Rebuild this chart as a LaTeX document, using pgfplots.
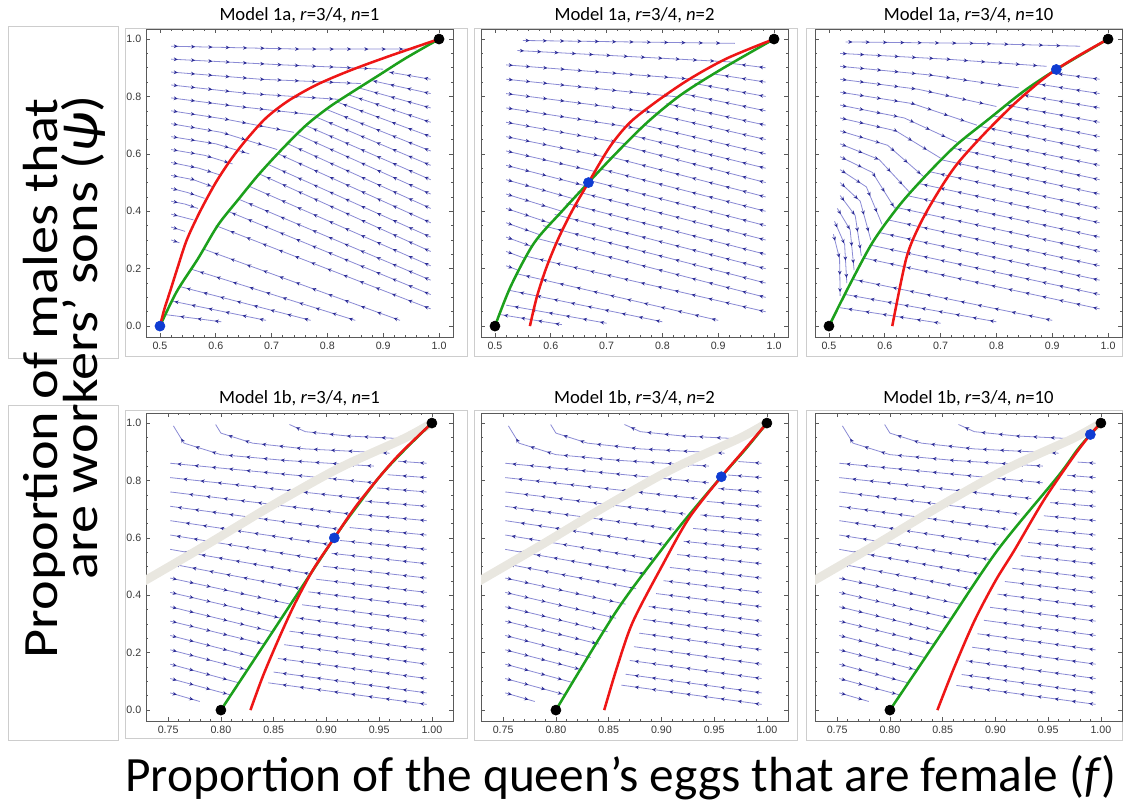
\documentclass[border=0pt]{standalone}
\usepackage{fontspec}
\setmainfont{Carlito}
\newfontfamily\tickfam{Liberation Sans}
\usepackage{pgfplots}
\pgfplotsset{compat=1.18}
\usetikzlibrary{arrows.meta,decorations.markings}

\definecolor{slc}{RGB}{138,138,212}
\definecolor{arc}{RGB}{45,45,150}
\definecolor{redc}{RGB}{238,22,22}
\definecolor{grnc}{RGB}{28,160,28}
\definecolor{bluec}{RGB}{15,60,210}
\definecolor{grayband}{RGB}{233,231,224}
\definecolor{axc}{RGB}{90,90,90}
\definecolor{tkc}{RGB}{55,55,55}
\definecolor{frc}{RGB}{205,205,205}

\newcommand\tickfont{\tickfam\fontsize{8}{9}\selectfont}

\pgfplotsset{
  panel/.style={scale only axis, width=230.25pt, height=231pt, anchor=north west,
    ymin=-0.038, ymax=1.035, ytick={0,0.2,0.4,0.6,0.8,1}, minor y tick num=3,
    yticklabels={0.0,0.2,0.4,0.6,0.8,1.0},
    axis line style={draw=axc, line width=0.55pt},
    tick style={draw=axc, line width=0.45pt},
    major tick length=3.2pt, minor tick length=1.8pt, tick align=inside,
    tick label style={font=\tickfont, text=tkc}},
  pA/.style={xmin=0.475, xmax=1.025, xtick={0.5,0.6,0.7,0.8,0.9,1}, minor x tick num=4,
    xticklabels={0.5,0.6,0.7,0.8,0.9,1.0}},
  pB/.style={xmin=0.729, xmax=1.02, xtick={0.75,0.8,0.85,0.9,0.95,1}, minor x tick num=4,
    xticklabels={0.75,0.80,0.85,0.90,0.95,1.00}},
  noy/.style={yticklabels={}},
  sl/.style={draw=slc, line width=0.6pt, postaction={decorate},
    decoration={markings, mark=between positions 5pt and 0.98 step 13pt with {\arrow{Stealth[length=3pt,width=2.8pt,color=arc]}}}},
  rl/.style={draw=redc, line width=1.9pt, smooth, tension=0.5},
  gl/.style={draw=grnc, line width=1.9pt, smooth, tension=0.5},
  band/.style={draw=grayband, line width=6.5pt, line cap=round, smooth},
  bdot/.style={only marks, mark=*, mark size=3.8pt, mark options={draw=bluec, fill=bluec}},
  kdot/.style={only marks, mark=*, mark size=3.8pt, mark options={draw=black, fill=black}},
}
\newcommand\sL[1]{\addplot[sl] coordinates {#1};}

% ---------- Model 1a, n=1 ----------
\newcommand\streamsA{%
\sL{(0.52,0.975)(0.75,0.965)(0.96,0.965)}
\sL{(0.52,0.93)(0.72,0.91)(0.90,0.895)}
\sL{(0.52,0.885)(0.68,0.86)(0.86,0.845)}
\sL{(0.52,0.84)(0.66,0.81)(0.82,0.79)}
\sL{(0.52,0.795)(0.64,0.765)(0.78,0.735)}
\sL{(0.52,0.75)(0.62,0.72)(0.74,0.675)}
\sL{(0.52,0.705)(0.61,0.675)(0.71,0.615)}
\sL{(0.52,0.66)(0.60,0.635)(0.66,0.60)}
\sL{(0.52,0.615)(0.58,0.595)(0.63,0.565)}
\sL{(0.52,0.57)(0.57,0.55)(0.61,0.525)}
\sL{(0.52,0.525)(0.56,0.51)(0.595,0.485)}
\sL{(0.52,0.48)(0.55,0.465)(0.58,0.445)}
\sL{(0.52,0.435)(0.545,0.425)(0.568,0.41)}
\sL{(0.52,0.39)(0.56,0.37)}
\sL{(0.52,0.345)(0.545,0.33)}
\sL{(0.52,0.30)(0.535,0.29)}
\sL{(0.985,0.86)(0.91,0.885)}
\sL{(0.985,0.81)(0.88,0.855)}
\sL{(0.985,0.76)(0.856,0.83)}
\sL{(0.985,0.71)(0.836,0.807)}
\sL{(0.985,0.66)(0.817,0.781)}
\sL{(0.985,0.61)(0.798,0.755)}
\sL{(0.985,0.56)(0.78,0.728)}
\sL{(0.985,0.51)(0.76,0.70)}
\sL{(0.985,0.46)(0.744,0.67)}
\sL{(0.985,0.41)(0.728,0.636)}
\sL{(0.985,0.36)(0.712,0.60)}
\sL{(0.985,0.31)(0.694,0.563)}
\sL{(0.985,0.26)(0.677,0.531)}
\sL{(0.985,0.21)(0.66,0.487)}
\sL{(0.985,0.16)(0.64,0.443)}
\sL{(0.985,0.11)(0.622,0.40)}
\sL{(0.985,0.06)(0.60,0.35)}
\sL{(0.93,0.02)(0.58,0.267)}
\sL{(0.85,0.02)(0.555,0.199)}
\sL{(0.77,0.02)(0.537,0.137)}
\sL{(0.69,0.02)(0.522,0.087)}
\sL{(0.61,0.015)(0.51,0.04)}
}
% ---------- Model 1a, n=2 ----------
\newcommand\streamsB{%
\sL{(0.55,0.995)(0.93,0.985)}
\sL{(0.54,0.96)(0.925,0.92)}
\sL{(0.52,0.91)(0.875,0.857)}
\sL{(0.52,0.86)(0.83,0.798)}
\sL{(0.52,0.81)(0.795,0.741)}
\sL{(0.52,0.76)(0.762,0.687)}
\sL{(0.52,0.71)(0.734,0.635)}
\sL{(0.52,0.66)(0.708,0.585)}
\sL{(0.52,0.61)(0.685,0.536)}
\sL{(0.52,0.56)(0.662,0.489)}
\sL{(0.52,0.51)(0.64,0.444)}
\sL{(0.52,0.46)(0.62,0.40)}
\sL{(0.52,0.41)(0.60,0.358)}
\sL{(0.52,0.36)(0.582,0.317)}
\sL{(0.52,0.31)(0.567,0.277)}
\sL{(0.52,0.26)(0.555,0.235)}
\sL{(0.52,0.21)(0.54,0.196)}
\sL{(0.985,0.90)(0.92,0.916)}
\sL{(0.985,0.85)(0.893,0.878)}
\sL{(0.985,0.80)(0.858,0.845)}
\sL{(0.985,0.75)(0.836,0.81)}
\sL{(0.985,0.70)(0.807,0.775)}
\sL{(0.985,0.65)(0.79,0.737)}
\sL{(0.985,0.60)(0.767,0.70)}
\sL{(0.985,0.55)(0.748,0.663)}
\sL{(0.985,0.50)(0.73,0.628)}
\sL{(0.985,0.45)(0.71,0.588)}
\sL{(0.985,0.40)(0.69,0.547)}
\sL{(0.985,0.35)(0.67,0.507)}
\sL{(0.985,0.30)(0.648,0.468)}
\sL{(0.985,0.25)(0.628,0.428)}
\sL{(0.985,0.20)(0.607,0.389)}
\sL{(0.985,0.15)(0.586,0.35)}
\sL{(0.985,0.10)(0.576,0.305)}
\sL{(0.985,0.05)(0.557,0.243)}
\sL{(0.90,0.02)(0.54,0.182)}
\sL{(0.80,0.015)(0.525,0.125)}
\sL{(0.70,0.01)(0.52,0.073)}
\sL{(0.62,0.005)(0.51,0.04)}
}
% ---------- Model 1a, n=10 ----------
\newcommand\streamsC{%
\sL{(0.53,0.99)(0.76,0.985)(0.95,0.975)}
\sL{(0.52,0.95)(0.71,0.93)(0.89,0.905)}
\sL{(0.52,0.905)(0.68,0.875)(0.84,0.83)}
\sL{(0.52,0.86)(0.66,0.825)(0.80,0.765)}
\sL{(0.52,0.815)(0.65,0.775)(0.765,0.70)}
\sL{(0.52,0.77)(0.635,0.725)(0.73,0.64)}
\sL{(0.52,0.725)(0.62,0.68)(0.70,0.585)}
\sL{(0.52,0.68)(0.605,0.63)(0.67,0.52)}
\sL{(0.52,0.635)(0.59,0.58)(0.645,0.465)}
\sL{(0.52,0.59)(0.578,0.535)(0.618,0.41)}
\sL{(0.52,0.545)(0.567,0.485)(0.595,0.355)}
\sL{(0.52,0.50)(0.556,0.435)(0.575,0.30)}
\sL{(0.52,0.455)(0.547,0.385)(0.558,0.245)}
\sL{(0.515,0.41)(0.538,0.335)(0.545,0.195)}
\sL{(0.51,0.365)(0.528,0.285)(0.532,0.15)}
\sL{(0.508,0.32)(0.519,0.235)(0.52,0.105)}
\sL{(0.985,0.86)(0.897,0.882)}
\sL{(0.985,0.81)(0.869,0.845)}
\sL{(0.985,0.76)(0.838,0.808)}
\sL{(0.985,0.71)(0.817,0.77)}
\sL{(0.985,0.66)(0.792,0.733)}
\sL{(0.985,0.61)(0.77,0.696)}
\sL{(0.985,0.56)(0.745,0.656)}
\sL{(0.985,0.51)(0.722,0.62)}
\sL{(0.985,0.46)(0.70,0.58)}
\sL{(0.985,0.41)(0.68,0.538)}
\sL{(0.985,0.36)(0.66,0.497)}
\sL{(0.985,0.31)(0.639,0.455)}
\sL{(0.985,0.26)(0.617,0.415)}
\sL{(0.985,0.21)(0.606,0.37)}
\sL{(0.985,0.16)(0.59,0.326)}
\sL{(0.985,0.11)(0.575,0.282)}
\sL{(0.985,0.06)(0.563,0.237)}
\sL{(0.90,0.02)(0.545,0.162)}
\sL{(0.80,0.015)(0.53,0.11)}
\sL{(0.70,0.01)(0.52,0.064)}
}
% ---------- Model 1b, left-hand streamlines (similar in all three) ----------
\newcommand\streamsBL{%
\sL{(0.975,0.945)(0.92,0.955)(0.88,0.97)(0.865,0.995)}
\sL{(0.96,0.895)(0.88,0.91)(0.83,0.93)(0.80,0.965)(0.795,0.995)}
\sL{(0.945,0.85)(0.86,0.87)(0.80,0.89)(0.765,0.93)(0.755,0.99)}
\sL{(0.945,0.792)(0.752,0.86)}
\sL{(0.934,0.737)(0.752,0.81)}
\sL{(0.923,0.683)(0.752,0.76)}
\sL{(0.912,0.63)(0.752,0.71)}
\sL{(0.903,0.577)(0.752,0.66)}
\sL{(0.894,0.525)(0.752,0.61)}
\sL{(0.885,0.474)(0.752,0.56)}
\sL{(0.876,0.423)(0.752,0.51)}
\sL{(0.752,0.46)(0.866,0.369)}
\sL{(0.752,0.41)(0.857,0.32)}
\sL{(0.752,0.36)(0.849,0.273)}
\sL{(0.752,0.31)(0.841,0.23)}
\sL{(0.752,0.26)(0.833,0.183)}
\sL{(0.752,0.21)(0.825,0.14)}
\sL{(0.752,0.16)(0.817,0.095)}
\sL{(0.752,0.11)(0.809,0.053)}
\sL{(0.752,0.06)(0.78,0.03)}
}
\newcommand\streamsDR{%
\sL{(0.995,0.86)(0.968,0.867)}
\sL{(0.995,0.81)(0.958,0.82)}
\sL{(0.995,0.76)(0.948,0.774)}
\sL{(0.995,0.71)(0.937,0.728)}
\sL{(0.995,0.66)(0.93,0.682)}
\sL{(0.995,0.61)(0.922,0.636)}
\sL{(0.995,0.56)(0.913,0.591)}
\sL{(0.995,0.51)(0.905,0.546)}
\sL{(0.995,0.46)(0.897,0.501)}
\sL{(0.995,0.41)(0.89,0.456)}
\sL{(0.995,0.36)(0.883,0.412)}
\sL{(0.995,0.31)(0.877,0.367)}
\sL{(0.995,0.26)(0.871,0.322)}
\sL{(0.995,0.21)(0.865,0.275)}
\sL{(0.995,0.16)(0.86,0.228)}
\sL{(0.995,0.11)(0.854,0.18)}
\sL{(0.995,0.06)(0.85,0.1325)}
\sL{(0.995,0.02)(0.845,0.095)}
}
\newcommand\streamsER{%
\sL{(0.995,0.86)(0.973,0.866)}
\sL{(0.995,0.81)(0.963,0.819)}
\sL{(0.995,0.76)(0.954,0.772)}
\sL{(0.995,0.71)(0.943,0.727)}
\sL{(0.995,0.66)(0.937,0.68)}
\sL{(0.995,0.61)(0.93,0.633)}
\sL{(0.995,0.56)(0.921,0.588)}
\sL{(0.995,0.51)(0.915,0.542)}
\sL{(0.995,0.46)(0.908,0.497)}
\sL{(0.995,0.41)(0.902,0.451)}
\sL{(0.995,0.36)(0.895,0.406)}
\sL{(0.995,0.31)(0.888,0.361)}
\sL{(0.995,0.26)(0.883,0.316)}
\sL{(0.995,0.21)(0.879,0.268)}
\sL{(0.995,0.16)(0.874,0.221)}
\sL{(0.995,0.11)(0.87,0.173)}
\sL{(0.995,0.06)(0.866,0.125)}
\sL{(0.995,0.02)(0.862,0.087)}
}
\newcommand\streamsFR{%
\sL{(0.995,0.86)(0.978,0.864)}
\sL{(0.995,0.81)(0.968,0.818)}
\sL{(0.995,0.76)(0.961,0.77)}
\sL{(0.995,0.71)(0.952,0.723)}
\sL{(0.995,0.66)(0.946,0.677)}
\sL{(0.995,0.61)(0.94,0.63)}
\sL{(0.995,0.56)(0.931,0.584)}
\sL{(0.995,0.51)(0.924,0.538)}
\sL{(0.995,0.46)(0.916,0.494)}
\sL{(0.995,0.41)(0.909,0.448)}
\sL{(0.995,0.36)(0.902,0.404)}
\sL{(0.995,0.31)(0.895,0.358)}
\sL{(0.995,0.26)(0.889,0.313)}
\sL{(0.995,0.21)(0.883,0.266)}
\sL{(0.995,0.16)(0.878,0.219)}
\sL{(0.995,0.11)(0.872,0.172)}
\sL{(0.995,0.06)(0.868,0.124)}
\sL{(0.995,0.02)(0.863,0.086)}
}
\newcommand\bandB{\addplot[band] coordinates {(0.72,0.434)(0.786,0.575)(0.849,0.714)(0.9115,0.842)(0.974,0.947)(1,1)};}

\begin{document}
\begin{tikzpicture}
\path[use as bounding box] (0,0) rectangle (842.25pt,-602.25pt);
% light frames
\begin{scope}[draw=frc, line width=0.6pt]
\draw (6pt,-19.5pt) rectangle (88.5pt,-268.5pt);
\draw (6pt,-303.75pt) rectangle (88.5pt,-555pt);
\draw (93.75pt,-21pt) rectangle (350.25pt,-267pt);
\draw (355.5pt,-21pt) rectangle (597.75pt,-267pt);
\draw (604.5pt,-21pt) rectangle (841.5pt,-267pt);
\draw (93.75pt,-307.5pt) rectangle (350.25pt,-553.5pt);
\draw (355.5pt,-307.5pt) rectangle (597.75pt,-555pt);
\draw (604.5pt,-307.5pt) rectangle (841.5pt,-555pt);
\end{scope}

% ===== top row =====
\begin{axis}[panel, pA, at={(109.5pt,-21.75pt)}]
\streamsA
\addplot[gl] coordinates {(0.5,0)(0.53,0.12)(0.5685,0.236)(0.604,0.352)(0.642,0.445)(0.676,0.526)(0.717,0.613)(0.762,0.70)(0.804,0.764)(0.845,0.816)(0.893,0.875)(0.94,0.933)(1,1)};
\addplot[rl] coordinates {(0.5,0)(0.508,0.06)(0.518,0.12)(0.531,0.2)(0.548,0.3)(0.572,0.4)(0.6,0.5)(0.627,0.58)(0.655,0.65)(0.69,0.725)(0.73,0.785)(0.78,0.84)(0.84,0.89)(0.91,0.94)(1,1)};
\addplot[bdot] coordinates {(0.5,0)};
\addplot[kdot] coordinates {(1,1)};
\end{axis}

\begin{axis}[panel, pA, noy, at={(360.75pt,-21.75pt)}]
\streamsB
\addplot[gl] coordinates {(0.5,0)(0.5286,0.14)(0.5703,0.29)(0.62,0.40)(0.6675,0.5)(0.7134,0.595)(0.773,0.71)(0.8327,0.805)(0.904,0.893)(1,1)};
\addplot[rl] coordinates {(0.5626,0)(0.5748,0.1)(0.5914,0.2)(0.6124,0.3)(0.6378,0.4)(0.6675,0.5)(0.706,0.625)(0.7433,0.712)(0.797,0.793)(0.8506,0.863)(0.916,0.933)(1,1)};
\addplot[bdot] coordinates {(0.6675,0.5)};
\addplot[kdot] coordinates {(0.5,0)(1,1)};
\end{axis}

\begin{axis}[panel, pA, noy, at={(611.25pt,-21.75pt)}]
\streamsC
\addplot[gl] coordinates {(0.5,0)(0.5369,0.143)(0.5789,0.294)(0.6265,0.4216)(0.6744,0.5261)(0.7281,0.6307)(0.7878,0.7236)(0.8477,0.8165)(0.9073,0.894)(1,1)};
\addplot[rl] coordinates {(0.6134,0)(0.6385,0.2358)(0.6624,0.352)(0.6923,0.4564)(0.7281,0.561)(0.776,0.6655)(0.8297,0.77)(0.8774,0.851)(0.9073,0.894)(0.949,0.944)(1,1)};
\addplot[bdot] coordinates {(0.9073,0.894)};
\addplot[kdot] coordinates {(0.5,0)(1,1)};
\end{axis}

% ===== bottom row =====
\begin{axis}[panel, pB, at={(109.5pt,-309.75pt)}]
\streamsBL
\streamsDR
\bandB
\addplot[gl] coordinates {(0.8,0)(0.849,0.273)(0.9075,0.6)(0.93,0.715)(0.952,0.82)(0.975,0.91)(1,1)};
\addplot[rl] coordinates {(0.828,0)(0.84,0.12)(0.855,0.25)(0.87,0.37)(0.8875,0.49)(0.9075,0.6)(0.93,0.72)(0.965,0.875)(1,1)};
\addplot[bdot] coordinates {(0.9075,0.6)};
\addplot[kdot] coordinates {(0.8,0)(1,1)};
\end{axis}

\begin{axis}[panel, pB, noy, at={(360.75pt,-309.75pt)}]
\streamsBL
\streamsER
\bandB
\addplot[gl] coordinates {(0.8,0)(0.857,0.343)(0.901,0.563)(0.926,0.679)(0.9568,0.813)(0.98,0.91)(1,1)};
\addplot[rl] coordinates {(0.8458,0)(0.858,0.15)(0.873,0.308)(0.901,0.505)(0.926,0.668)(0.9568,0.813)(0.977,0.9)(1,1)};
\addplot[bdot] coordinates {(0.9568,0.813)};
\addplot[kdot] coordinates {(0.8,0)(1,1)};
\end{axis}

\begin{axis}[panel, pB, noy, at={(611.25pt,-309.75pt)}]
\streamsBL
\streamsFR
\bandB
\addplot[gl] coordinates {(0.8,0)(0.85,0.273)(0.902,0.557)(0.959,0.813)(0.9775,0.906)(0.99,0.96)(1,1)};
\addplot[rl] coordinates {(0.845,0)(0.86,0.14)(0.88,0.31)(0.90,0.45)(0.918,0.557)(0.946,0.732)(0.974,0.883)(0.99,0.96)(1,1)};
\addplot[bdot] coordinates {(0.99,0.96)};
\addplot[kdot] coordinates {(0.8,0)(1,1)};
\end{axis}

% titles
\begin{scope}[every node/.style={anchor=base, inner sep=0pt, font=\fontsize{14}{16}\selectfont}]
\node at (224.6pt,-15.75pt) {Model 1a, \textit{r}=3/4, \textit{n}=1};
\node at (475.9pt,-15.75pt) {Model 1a, \textit{r}=3/4, \textit{n}=2};
\node at (726.4pt,-15.75pt) {Model 1a, \textit{r}=3/4, \textit{n}=10};
\node at (224.6pt,-302.25pt) {Model 1b, \textit{r}=3/4, \textit{n}=1};
\node at (475.9pt,-302.25pt) {Model 1b, \textit{r}=3/4, \textit{n}=2};
\node at (726.4pt,-302.25pt) {Model 1b, \textit{r}=3/4, \textit{n}=10};
\end{scope}

% axis labels
\node[anchor=base, inner sep=0pt, font=\fontsize{37}{40}\selectfont] at (465.75pt,-593.25pt) {Proportion of the queen’s eggs that are female (\textit{f})};
\node[rotate=90, xscale=1.14, anchor=base east, inner sep=0pt, font=\fontsize{37}{40}\selectfont] at (42.75pt,-73.5pt) {Proportion of males that};
\node[rotate=90, xscale=1.14, anchor=base east, inner sep=0pt, font=\fontsize{37}{40}\selectfont] at (72.75pt,-71.25pt) {are workers’ sons (\textit{ψ})};
\end{tikzpicture}
\end{document}
